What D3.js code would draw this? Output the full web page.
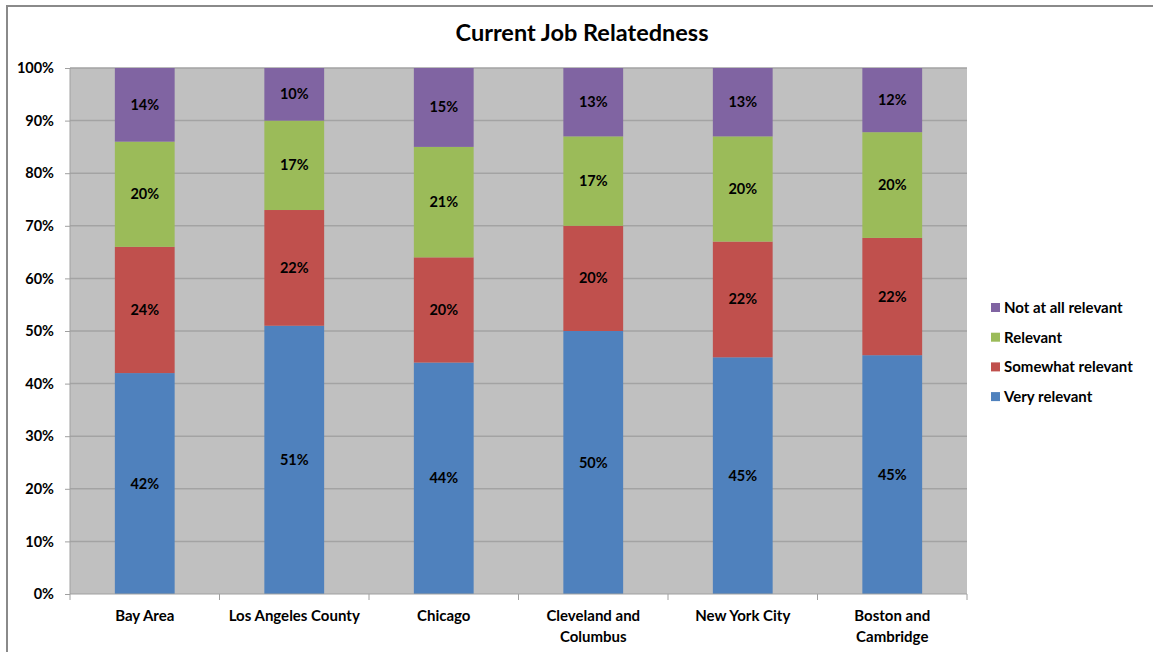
<!DOCTYPE html>
<html>
<head>
<meta charset="utf-8">
<script src="https://cdn.jsdelivr.net/npm/d3@7"></script>
<style>
  body { margin: 0; background: #fff; }
  text { font-family: Lato, "Open Sans", sans-serif; font-weight: bold; fill: #000; }
</style>
</head>
<body>
<svg id="chart" width="1153" height="652"></svg>
<script>
// data
let cities = ["Bay Area", "Los Angeles County", "Chicago", "Cleveland and Columbus", "New York City", "Boston and Cambridge"];
let seriesNames = ["Very relevant", "Somewhat relevant", "Relevant", "Not at all relevant"];
let veryRelevant = [42, 51, 44, 50, 45, 45.4];
let somewhatRelevant = [24, 22, 20, 20, 22, 22.3];
let relevant = [20, 17, 21, 17, 20, 20.1];
let notRelevant = [14, 10, 15, 13, 13, 12.2];
let yTicks = [0, 10, 20, 30, 40, 50, 60, 70, 80, 90, 100];
let colors = ["#4F81BD", "#C0504D", "#9BBB59", "#8064A2"];

let svg = d3.select("#chart");
let margin = {top: 68, right: 186, bottom: 58, left: 70};
let width = 1153 - margin.left - margin.right;
let height = 652 - margin.top - margin.bottom;

// outer frame
svg.append("path")
    .attr("d", "M7,660 L7,6 L1160,6")
    .attr("fill", "none")
    .attr("stroke", "#8a8a8a")
    .attr("stroke-width", 2);

svg.append("text")
    .attr("x", 582).attr("y", 41)
    .attr("text-anchor", "middle")
    .style("font-size", "23.5px")
    .text("Current Job Relatedness");

let rows = cities.map((c, i) => ({
    city: c,
    "Very relevant": veryRelevant[i],
    "Somewhat relevant": somewhatRelevant[i],
    "Relevant": relevant[i],
    "Not at all relevant": notRelevant[i]
}));

let stack = d3.stack().keys(seriesNames)(rows);

let x = d3.scaleBand().domain(cities).range([0, width]).paddingInner(0.6).paddingOuter(0.3);
let y = d3.scaleLinear().domain([0, 100]).range([height, 0]);
let color = d3.scaleOrdinal().domain(seriesNames).range(colors);

let g = svg.append("g").attr("transform", "translate(" + margin.left + "," + margin.top + ")");

g.append("rect")
    .attr("width", width).attr("height", height)
    .attr("fill", "#C0C0C0");

g.append("g")
    .selectAll("line")
    .data(yTicks.slice(1))
    .enter().append("line")
    .attr("x1", 0).attr("x2", width)
    .attr("y1", d => y(d)).attr("y2", d => y(d))
    .attr("stroke", "#a3a3a3")
    .attr("stroke-width", 1.5);

let groups = g.append("g")
    .selectAll("g.series")
    .data(stack).enter()
    .append("g")
    .classed("series", true)
    .attr("fill", d => color(d.key));

groups.selectAll("rect")
    .data(d => d)
    .enter().append("rect")
    .attr("x", d => x(d.data.city))
    .attr("width", x.bandwidth())
    .attr("y", d => y(d[1]))
    .attr("height", d => y(d[0]) - y(d[1]));

groups.selectAll("text")
    .data(d => d)
    .enter().append("text")
    .attr("x", d => x(d.data.city) + x.bandwidth() / 2)
    .attr("y", d => (y(d[0]) + y(d[1])) / 2 + 5)
    .attr("text-anchor", "middle")
    .style("font-size", "14.5px")
    .text(d => Math.round(d[1] - d[0]) + "%");

// y axis
let yAxis = g.append("g")
    .call(d3.axisLeft(y).tickValues(yTicks).tickFormat(d => d + "%").tickSize(5).tickPadding(11));
yAxis.select(".domain").attr("stroke", "#a0a0a0").attr("d", "M0,0V" + height);
yAxis.selectAll(".tick line").attr("stroke", "#a0a0a0");
yAxis.selectAll("text").style("font-size", "14.5px").style("font-family", "Lato, sans-serif").style("font-weight", "bold").attr("fill", "#000");

// x axis with boundary ticks
let xAxisG = g.append("g").attr("transform", "translate(0," + height + ")");
xAxisG.append("line").attr("x1", 0).attr("x2", width).attr("stroke", "#a0a0a0");
let step = width / cities.length;
xAxisG.selectAll("line.tk")
    .data(d3.range(cities.length + 1))
    .enter().append("line")
    .classed("tk", true)
    .attr("x1", d => d * step).attr("x2", d => d * step)
    .attr("y1", 0).attr("y2", 6)
    .attr("stroke", "#a0a0a0");

let labelLines = {
    "Cleveland and Columbus": ["Cleveland and", "Columbus"],
    "Boston and Cambridge": ["Boston and", "Cambridge"]
};
xAxisG.selectAll("text.cat")
    .data(cities).enter()
    .append("text")
    .classed("cat", true)
    .attr("text-anchor", "middle")
    .attr("transform", d => "translate(" + (x(d) + x.bandwidth() / 2) + ",27)")
    .style("font-size", "15px")
    .each(function (d) {
        let lines = labelLines[d] || [d];
        d3.select(this).selectAll("tspan")
            .data(lines).enter().append("tspan")
            .attr("x", 0)
            .attr("dy", (l, i) => i === 0 ? 0 : 21)
            .text(l => l);
    });

// legend
let legendItems = seriesNames.slice().reverse();
let legend = svg.append("g").attr("transform", "translate(991,303)");
let item = legend.selectAll("g")
    .data(legendItems).enter()
    .append("g")
    .attr("transform", (d, i) => "translate(0," + (i * 29.7) + ")");
item.append("rect")
    .attr("width", 9).attr("height", 9)
    .attr("fill", d => color(d));
item.append("text")
    .attr("x", 13).attr("y", 10)
    .style("font-size", "15px")
    .text(d => d);
</script>
</body>
</html>
